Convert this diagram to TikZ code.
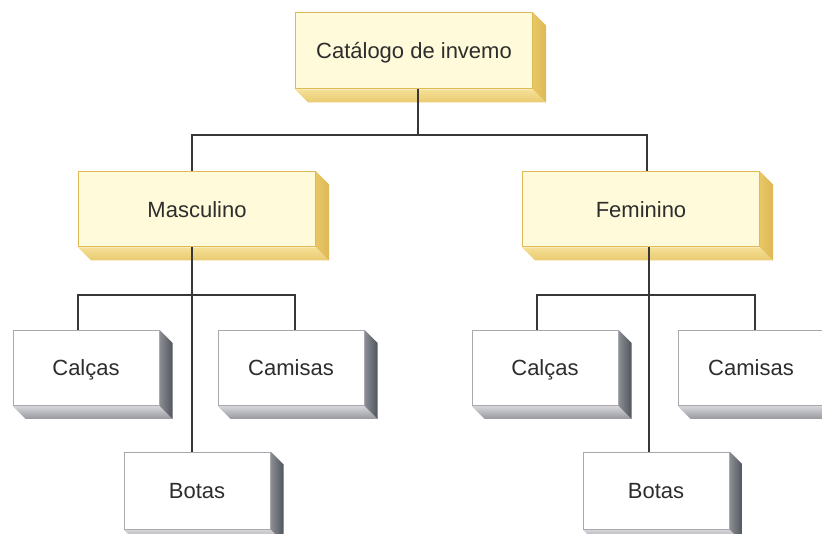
\documentclass[tikz,border=0pt]{standalone}
\usepackage{fontspec}
\setsansfont{Liberation Sans}
\usetikzlibrary{positioning,calc,backgrounds}
\definecolor{ink}{RGB}{45,45,45}
\definecolor{wire}{RGB}{55,55,55}
\definecolor{gold}{RGB}{222,186,86}
\definecolor{goldlight}{RGB}{255,250,218}
\definecolor{goldside}{RGB}{232,198,100}
\definecolor{goldsidedark}{RGB}{222,184,86}
\definecolor{goldbase}{RGB}{246,224,150}
\definecolor{goldbasedark}{RGB}{232,202,112}
\definecolor{frame}{RGB}{168,168,174}
\definecolor{greyside}{RGB}{140,142,148}
\definecolor{greysidedark}{RGB}{80,84,92}
\definecolor{greybase}{RGB}{214,214,218}
\definecolor{greybasedark}{RGB}{150,152,158}
\tikzset{
  every picture/.style={x=1pt, y=-1pt, font=\sffamily\fontsize{22}{26}\selectfont, text=ink},
  box/.style={inner sep=0pt, align=center, line width=1pt, text height=16pt, text depth=0pt},
  head/.style={box, draw=gold, fill=goldlight, minimum width=237pt, minimum height=75pt},
  item/.style={box, draw=frame, fill=white, minimum width=146pt, minimum height=75pt},
  link/.style={draw=wire, line width=1.2pt},
}
% extrusion to the lower right of a box: node, side, side dark, base, base dark
\newcommand\bevel[5]{%
  \shade[top color=#4, bottom color=#5] (#1.south west) -- ++(13,13) -- ([shift={(13,13)}]#1.south east) -- (#1.south east) -- cycle;
  \shade[left color=#2, right color=#3] (#1.north east) -- ([shift={(13,13)}]#1.north east) -- ([shift={(13,13)}]#1.south east) -- (#1.south east) -- cycle;
}
\begin{document}
\begin{tikzpicture}
  \useasboundingbox (0,0) rectangle (822,534);
  \clip (0,0) rectangle (822,534);
  % catalogue head
  \node[head, minimum height=76pt] (cat) at (414,51) {Catálogo de invemo};
  \node[head] (masc) at (197,209.5) {Masculino};
  \node[head] (fem) at (641,209.5) {Feminino};
  % men
  \node[item] (mcal) at (86,368) {Calças};
  \node[item] (mcam) at (291,368) {Camisas};
  \node[item, minimum height=77pt] (mbot) at (197,490.5) {Botas};
  % women
  \node[item] (fcal) at (545,368) {Calças};
  \node[item] (fcam) at (751,368) {Camisas};
  \node[item, minimum height=77pt] (fbot) at (656,490.5) {Botas};
  \begin{scope}[on background layer]
    \bevel{cat}{goldside}{goldsidedark}{goldbase}{goldbasedark}
    \bevel{masc}{goldside}{goldsidedark}{goldbase}{goldbasedark}
    \bevel{fem}{goldside}{goldsidedark}{goldbase}{goldbasedark}
    \foreach \n in {mcal,mcam,mbot,fcal,fcam,fbot}
      \bevel{\n}{greyside}{greysidedark}{greybase}{greybasedark};
  \end{scope}
  \begin{scope}[on background layer]
    \coordinate (top) at (418,135);
    \coordinate (mj) at (192,295);
    \coordinate (fj) at (649,295);
    \draw[link] ([xshift=4pt]cat.south) -- (top);
    \draw[link] (top) -| ([xshift=-5pt]masc.north);
    \draw[link] (top) -| ([xshift=6pt]fem.north);
    \draw[link] ([xshift=-5pt]masc.south) -- ([xshift=-5pt]mbot.north);
    \draw[link] (mj) -| ([xshift=-8pt]mcal.north);
    \draw[link] (mj) -| ([xshift=4pt]mcam.north);
    \draw[link] ([xshift=8pt]fem.south) -- ([xshift=-7pt]fbot.north);
    \draw[link] (fj) -| ([xshift=-8pt]fcal.north);
    \draw[link] (fj) -| ([xshift=4pt]fcam.north);
  \end{scope}
\end{tikzpicture}
\end{document}
